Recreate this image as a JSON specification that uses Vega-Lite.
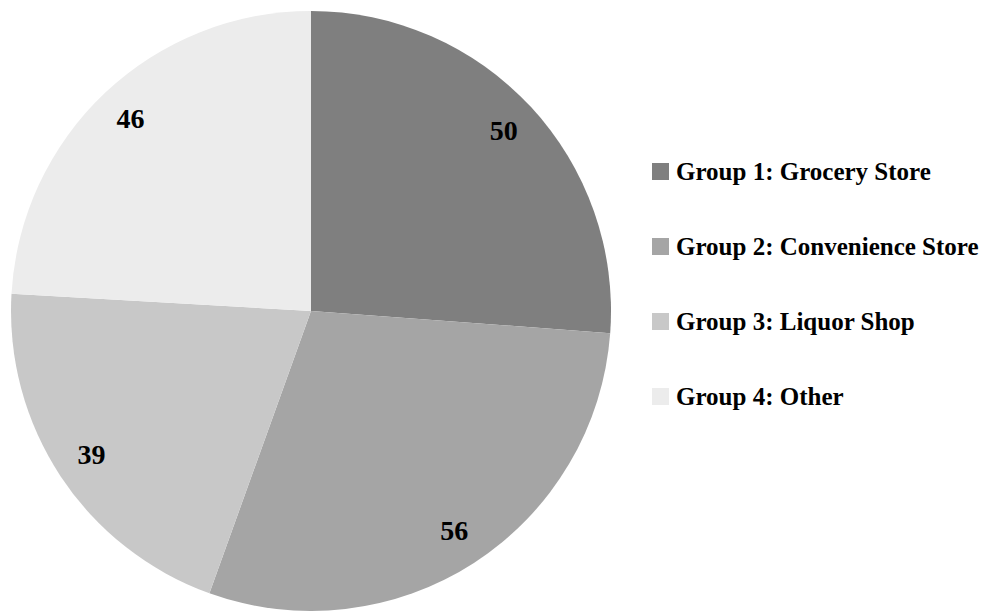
{
  "$schema": "https://vega.github.io/schema/vega-lite/v6.json",
  "width": 622,
  "height": 600,
  "autosize": {"type": "none"},
  "padding": {"left": 0, "top": 11, "right": 371, "bottom": 0},
  "background": "white",
  "data": {
    "values": [
      {"group": "Group 1: Grocery Store", "order": 1, "count": 50},
      {"group": "Group 2: Convenience Store", "order": 2, "count": 56},
      {"group": "Group 3: Liquor Shop", "order": 3, "count": 39},
      {"group": "Group 4: Other", "order": 4, "count": 46}
    ]
  },
  "encoding": {
    "theta": {"field": "count", "type": "quantitative", "stack": true},
    "order": {"field": "order", "type": "quantitative", "sort": "ascending"}
  },
  "layer": [
    {
      "mark": {"type": "arc", "stroke": null},
      "encoding": {
        "color": {
          "field": "group",
          "type": "nominal",
          "sort": ["Group 1: Grocery Store", "Group 2: Convenience Store", "Group 3: Liquor Shop", "Group 4: Other"],
          "scale": {
            "domain": ["Group 1: Grocery Store", "Group 2: Convenience Store", "Group 3: Liquor Shop", "Group 4: Other"],
            "range": ["#7f7f7f", "#a5a5a5", "#c8c8c8", "#ececec"]
          },
          "legend": {
            "title": null,
            "orient": "none",
            "legendX": 648,
            "legendY": 148,
            "symbolType": "square",
            "symbolSize": 289,
            "symbolStrokeWidth": 0,
            "labelFont": "Liberation Serif",
            "labelFontWeight": "bold",
            "labelFontSize": 25,
            "labelColor": "#000000",
            "labelOffset": 3,
            "labelLimit": 400,
            "rowPadding": 49,
            "padding": 0
          }
        }
      }
    },
    {
      "mark": {
        "type": "text",
        "radius": 263,
        "font": "Liberation Serif",
        "fontWeight": "bold",
        "fontSize": 28,
        "color": "#000000",
        "align": "center",
        "baseline": "middle"
      },
      "encoding": {
        "text": {"field": "count", "type": "quantitative"}
      }
    }
  ],
  "config": {
    "view": {"stroke": null}
  }
}
